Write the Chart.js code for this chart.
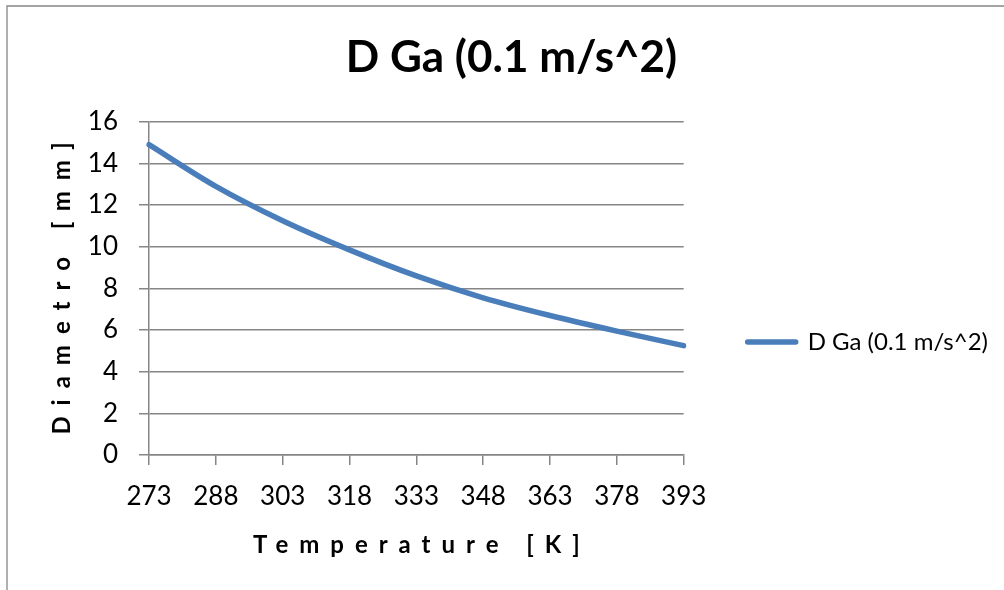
<!DOCTYPE html>
<html>
<head>
<meta charset="utf-8">
<title>D Ga (0.1 m/s^2)</title>
<script src="https://cdn.jsdelivr.net/npm/chart.js@4.4.1/dist/chart.umd.min.js"></script>
<style>
  html, body { margin: 0; padding: 0; background: #fff; overflow: hidden; }
  canvas { display: block; }
</style>
</head>
<body>
<canvas id="myChart" width="1004" height="590"></canvas>
<script>
'use strict';

// temperature categories on the x axis (K)
const temperatures = ['273', '288', '303', '318', '333', '348', '363', '378', '393'];
// diameter at each temperature (mm)
const diameters = [14.9, 12.9, 11.25, 9.85, 8.6, 7.55, 6.7, 5.95, 5.25];
// y axis tick values
const yTicks = [0, 2, 4, 6, 8, 10, 12, 14, 16];
const seriesName = 'D Ga (0.1 m/s^2)';

const gridGray = '#868686';
const lineBlue = '#4a7ebb';
const fontFamily = 'Lato, "Open Sans", sans-serif';
const titleSpacing = 11;

Chart.defaults.font.family = fontFamily;
Chart.defaults.color = '#000';

// legend is as wide as its text, so measure it to keep the plot right edge at 683
const legendFont = 24;
const legendBox = 48;
const legendPad = 64;
const measure = document.createElement('canvas').getContext('2d');
measure.font = 'normal ' + legendFont + 'px ' + fontFamily;
const legendWidth = Math.ceil(legendPad + legendBox + legendFont / 2 + measure.measureText(seriesName).width + 10);
const padRight = Math.max(0, 1004 - 683 - legendWidth);
const padLeft = 19 + padRight;

// grey frame round the chart, only its left and top edges show
const frame = {
  id: 'frame',
  beforeDraw(chart) {
    const c = chart.ctx;
    c.save();
    c.strokeStyle = gridGray;
    c.lineWidth = 1.3;
    c.beginPath();
    c.moveTo(7, chart.height);
    c.lineTo(7, 6);
    c.lineTo(chart.width, 6);
    c.stroke();
    c.restore();
  }
};

// axis titles are drawn letter spaced
const spacedTitles = {
  id: 'spacedTitles',
  beforeDraw(chart) {
    ['x', 'y'].forEach(id => {
      const s = chart.scales[id];
      if (s._spaced) return;
      const orig = s.drawTitle.bind(s);
      s.drawTitle = () => {
        const c = chart.ctx;
        c.save();
        c.letterSpacing = titleSpacing + 'px';
        // trailing spacing would push the text off centre
        if (id === 'x') c.translate(titleSpacing / 2, 0);
        else c.translate(0, -titleSpacing / 2);
        orig();
        c.restore();
      };
      s._spaced = true;
    });
  }
};

// move the legend down, level with the end of the curve
const legendShift = {
  id: 'legendShift',
  afterLayout(chart) {
    chart.legend.top += 47;
    chart.legend.bottom += 47;
  }
};

let ctx = document.getElementById('myChart').getContext('2d');

let myChart = new Chart(ctx, {
  type: 'line',
  data: {
    labels: temperatures,
    datasets: [
      {
        label: seriesName,
        data: diameters,
        borderColor: lineBlue,
        backgroundColor: lineBlue,
        borderWidth: 5.5,
        borderCapStyle: 'round',
        borderJoinStyle: 'round',
        pointRadius: 0,
        cubicInterpolationMode: 'monotone',
      },
    ],
  },
  options: {
    responsive: false,
    animation: false,
    layout: {
      padding: { left: padLeft, right: padRight, top: 0, bottom: 0 },
    },
    plugins: {
      title: {
        display: true,
        text: seriesName,
        color: '#000',
        font: { size: 44, weight: 'bold' },
        padding: { top: 31, bottom: 38 },
      },
      legend: {
        position: 'right',
        maxWidth: legendWidth,
        labels: {
          boxWidth: legendBox,
          boxHeight: 0,
          padding: legendPad,
          color: '#000',
          font: { size: legendFont },
        },
      },
      tooltip: { enabled: false },
    },
    scales: {
      x: {
        type: 'category',
        offset: false,
        grid: { drawOnChartArea: false, color: gridGray, lineWidth: 1.5, tickLength: 10 },
        border: { color: gridGray, width: 1.5 },
        ticks: { autoSkip: false, maxRotation: 0, padding: 16, font: { size: 26 } },
        title: {
          display: true,
          text: 'Temperature [K]',
          font: { size: 24, weight: 'bold' },
          padding: { top: 0, bottom: 30 },
        },
        afterFit: (s) => { s.height = 135; },
      },
      y: {
        min: 0,
        max: 16,
        afterBuildTicks: (s) => { s.ticks = yTicks.map(v => ({ value: v })); },
        grid: { color: gridGray, lineWidth: 1.5, tickLength: 10 },
        border: { color: gridGray, width: 1.5 },
        ticks: { padding: 21, font: { size: 26 } },
        title: {
          display: true,
          text: 'Diametro [mm]',
          font: { size: 24, weight: 'bold', lineHeight: 1 },
          padding: { top: Math.max(0, 50 - padLeft), bottom: 0 },
        },
        afterFit: (s) => { s.width = 149 - padLeft; },
      },
    },
  },
  plugins: [frame, spacedTitles, legendShift],
});
</script>
</body>
</html>
